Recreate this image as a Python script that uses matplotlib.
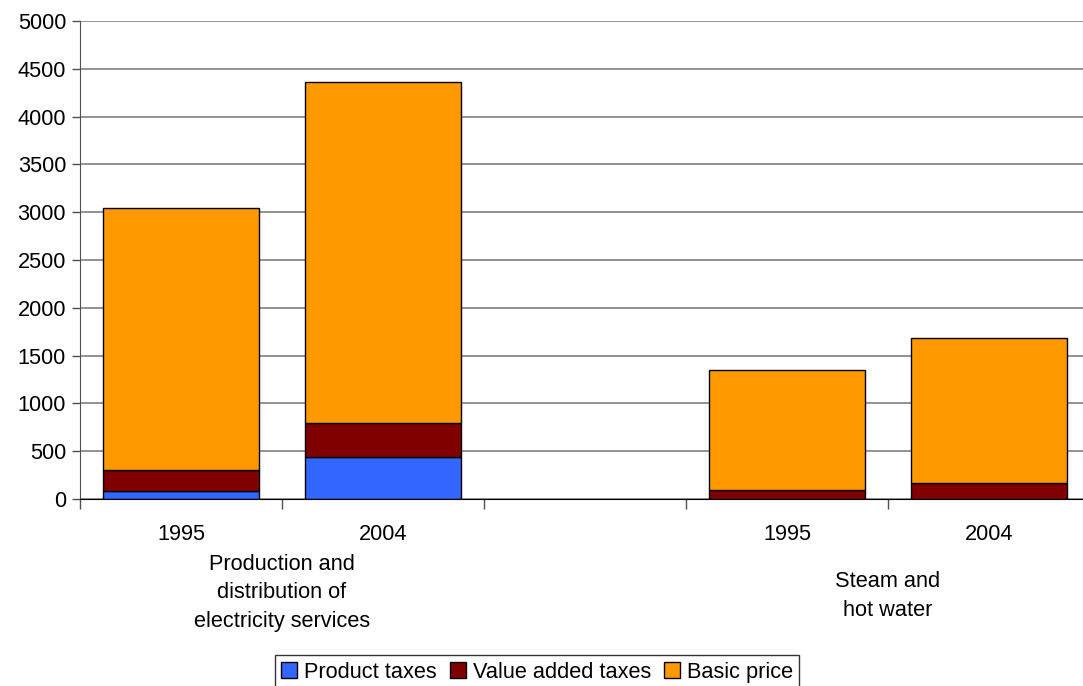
import matplotlib
matplotlib.use("Agg")
import matplotlib.pyplot as plt
import matplotlib.transforms as mtransforms

plt.rcParams["font.family"] = ["Liberation Sans", "DejaVu Sans"]

# bar slots: two groups of two years, with an empty slot between them
years = ["1995", "2004", "", "1995", "2004"]
groups = ["Production and\ndistribution of\nelectricity services", "Steam and\nhot water"]
group_pos = [0.5, 3.5]
group_y = [593, 596]  # pixel rows of the label centres

product_taxes = [80, 435, 0, 0, 0]
value_added_taxes = [225, 355, 0, 95, 170]
basic_price = [2740, 3572, 0, 1255, 1515]

series = [
    ("Product taxes", product_taxes, "#3366FF"),
    ("Value added taxes", value_added_taxes, "#800000"),
    ("Basic price", basic_price, "#FF9900"),
]

FS = 15.7
AX_BOTTOM = 499  # pixel row of the x axis
AX_H = 478

fig = plt.figure(figsize=(10.83, 6.86), dpi=100)
ax = fig.add_axes([80 / 1083, (686 - AX_BOTTOM) / 686, 1010 / 1083, AX_H / 686])

x = list(range(len(years)))
bottom = [0] * len(years)
for name, vals, color in series:
    # skip empty segments so no outline is drawn on the baseline
    xs = [i for i in x if vals[i] > 0]
    ax.bar(xs, [vals[i] for i in xs], width=0.77, bottom=[bottom[i] for i in xs],
           color=color, edgecolor="black", linewidth=1, label=name, zorder=3)
    bottom = [b + v for b, v in zip(bottom, vals)]

ax.set_xlim(-0.5, len(years) - 0.5)
ax.set_ylim(0, 5000)
ax.set_yticks(range(0, 5001, 500))
ax.yaxis.grid(True, color="#808080", linewidth=1.2, zorder=0)
ax.tick_params(axis="y", labelsize=FS, length=6, width=1, color="#505050", pad=4)

# ticks at slot boundaries, year labels centred under each bar
ax.set_xticks([i - 0.5 for i in range(len(years) + 1)])
ax.set_xticklabels([])
ax.tick_params(axis="x", which="major", length=7, width=1, color="#505050")
ax.set_xticks(x, minor=True)
ax.set_xticklabels(years, minor=True, fontsize=FS)
ax.tick_params(axis="x", which="minor", length=0, pad=18)

for s in ["top", "right"]:
    ax.spines[s].set_visible(False)
ax.spines["left"].set_color("#505050")
ax.spines["bottom"].set_color("black")
ax.spines["bottom"].set_zorder(4)

trans = mtransforms.blended_transform_factory(ax.transData, ax.transAxes)
for pos, gy, label in zip(group_pos, group_y, groups):
    ax.text(pos, -(gy - AX_BOTTOM) / AX_H, label, transform=trans, ha="center",
            va="center", fontsize=FS, linespacing=1.45)

leg = fig.legend(loc="upper center", bbox_to_anchor=(537 / 1083, 1 - 655 / 686),
                 ncol=3, fontsize=FS, frameon=True, fancybox=False,
                 handlelength=0.75, handleheight=0.75, handletextpad=0.3,
                 columnspacing=0.6, borderpad=0.3, borderaxespad=0)
leg.get_frame().set_edgecolor("black")
leg.get_frame().set_linewidth(1)

fig.savefig("out.png", dpi=100)
